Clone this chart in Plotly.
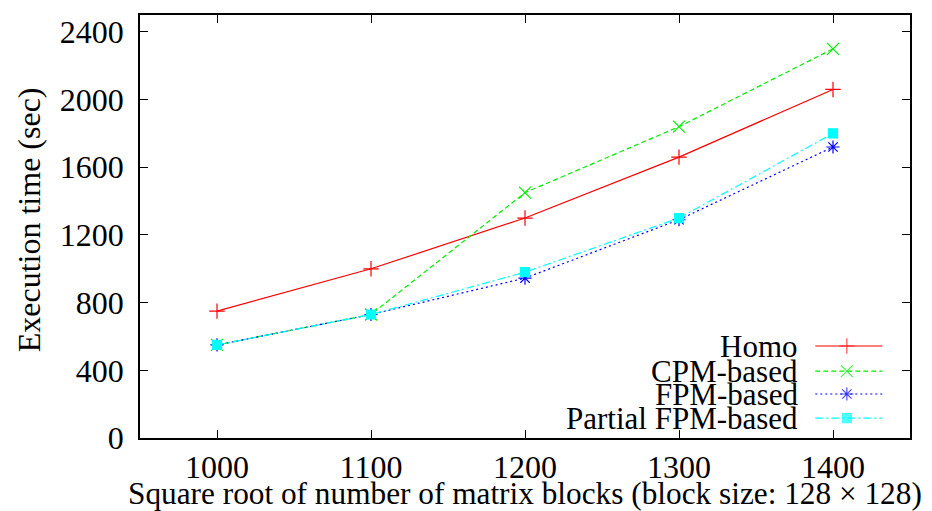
import plotly.graph_objects as go

# Data
x_vals = [1000, 1100, 1200, 1300, 1400]
homo = [750, 1000, 1300, 1660, 2060]
cpm = [550, 730, 1450, 1840, 2300]
fpm = [550, 730, 945, 1290, 1720]
partial = [550, 730, 980, 1300, 1800]
series_names = ["Homo", "CPM-based", "FPM-based", "Partial FPM-based"]
y_ticks = [0, 400, 800, 1200, 1600, 2000, 2400]
x_ticks = [1000, 1100, 1200, 1300, 1400]
x_title = "Square root of number of matrix blocks (block size: 128 × 128)"
y_title = "Execution time (sec)"

FONT = "Liberation Serif, Times New Roman, serif"
FS = 32
FS_KEY = 31
FS_XT = 31.3

styles = [
    dict(color="#ff0000", dash="solid", symbol="cross-thin", size=11),
    dict(color="#00ee00", dash="5px,3px", symbol="x-thin", size=12),
    dict(color="#0000ff", dash="2px,3px", symbol="asterisk", size=11),
    dict(color="#00ffff", dash="8px,3px,2px,3px", symbol="square", size=9),
]
data = [homo, cpm, fpm, partial]

fig = go.Figure()
for name, ys, st in zip(series_names, data, styles):
    fig.add_trace(go.Scatter(
        x=x_vals, y=ys, mode="lines+markers", name=name,
        line=dict(color=st["color"], width=1.2, dash=st["dash"]),
        marker=dict(symbol=st["symbol"], size=st["size"], color=st["color"],
                    line=dict(color=st["color"], width=1.2)),
        showlegend=False, cliponaxis=False,
    ))

# Custom gnuplot-style key (text right-aligned, sample on the right)
key_rows = [0.2175, 0.158, 0.104, 0.047]
for name, st, ky in zip(series_names, styles, key_rows):
    fig.add_trace(go.Scatter(
        x=[0.877, 0.918, 0.964], y=[ky, ky, ky], xaxis="x2", yaxis="y2",
        mode="lines+markers", showlegend=False, hoverinfo="skip",
        line=dict(color=st["color"], width=1.2, dash=st["dash"]),
        marker=dict(symbol=st["symbol"], size=[0, st["size"], 0], color=st["color"],
                    line=dict(color=st["color"], width=1.2)),
    ))
    fig.add_annotation(x=0.857, y=ky, xref="x2", yref="y2", text=name,
                       showarrow=False, xanchor="right", yanchor="middle",
                       font=dict(family=FONT, size=FS_KEY, color="black"))

# Axis titles
fig.add_annotation(x=0.5, y=-0.131, xref="paper", yref="paper", text=x_title,
                   showarrow=False, xanchor="center", yanchor="middle",
                   font=dict(family=FONT, size=FS_XT, color="black"))
fig.add_annotation(x=-0.144, y=0.515, xref="paper", yref="paper", text=y_title,
                   showarrow=False, xanchor="center", yanchor="middle", textangle=-90,
                   font=dict(family=FONT, size=FS, color="black"))

axis_common = dict(showline=True, linecolor="black", linewidth=1.5, mirror="ticks",
                   ticks="inside", ticklen=8, tickwidth=1.2, tickcolor="black",
                   showgrid=False, zeroline=False, automargin=False,
                   tickfont=dict(family=FONT, size=FS, color="black"))

fig.update_layout(
    width=924, height=503,
    margin=dict(l=132, r=22, t=7, b=73, autoexpand=False),
    paper_bgcolor="white", plot_bgcolor="white",
    font=dict(family=FONT, size=FS, color="black"),
    xaxis=dict(range=[950, 1450], tickvals=x_ticks, ticklabelstandoff=0, **axis_common),
    yaxis=dict(range=[0, 2500], tickvals=y_ticks, ticklabelstandoff=8, **axis_common),
    xaxis2=dict(range=[0, 1], overlaying="x", visible=False, fixedrange=True),
    yaxis2=dict(range=[0, 1], overlaying="y", visible=False, fixedrange=True),
)

fig.write_html("out.html")
